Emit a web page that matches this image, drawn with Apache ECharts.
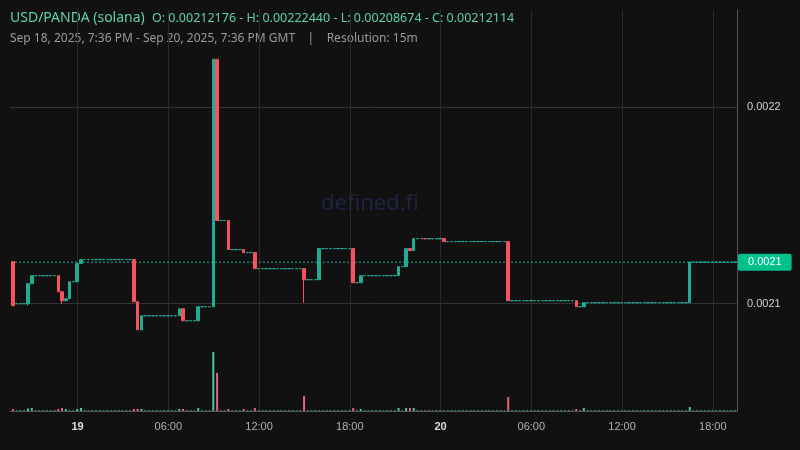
<!DOCTYPE html>
<html>
<head>
<meta charset="utf-8">
<script src="https://cdn.jsdelivr.net/npm/echarts@6/dist/echarts.min.js"></script>
<style>
html, body { margin: 0; padding: 0; background: #111111; }
#chart { width: 800px; height: 450px; }
</style>
</head>
<body>
<div id="chart"></div>
<script>
// runs of 15m candles: [count, open, close, low, high]
var candleRuns = [
  [1, 0.00212143, 0.00209898, 0.00209898, 0.00212143],
  [3, 0.00210000, 0.00210000, 0.00210000, 0.00210000],
  [1, 0.00210000, 0.00211020, 0.00209900, 0.00211020],
  [1, 0.00211020, 0.00211429, 0.00211020, 0.00211429],
  [6, 0.00211429, 0.00211429, 0.00211429, 0.00211429],
  [1, 0.00211429, 0.00210612, 0.00210612, 0.00211429],
  [1, 0.00210612, 0.00210153, 0.00210000, 0.00210612],
  [1, 0.00210153, 0.00210255, 0.00210153, 0.00210255],
  [1, 0.00210255, 0.00211122, 0.00210255, 0.00211122],
  [1, 0.00211122, 0.00211122, 0.00211122, 0.00211122],
  [1, 0.00211122, 0.00212041, 0.00211122, 0.00212041],
  [1, 0.00212041, 0.00212245, 0.00212041, 0.00212245],
  [13, 0.00212245, 0.00212245, 0.00212245, 0.00212245],
  [1, 0.00212245, 0.00210102, 0.00210102, 0.00212245],
  [1, 0.00210102, 0.00208674, 0.00208674, 0.00210102],
  [1, 0.00208674, 0.00209388, 0.00208674, 0.00209388],
  [9, 0.00209388, 0.00209388, 0.00209388, 0.00209388],
  [1, 0.00209388, 0.00209745, 0.00209388, 0.00209745],
  [1, 0.00209745, 0.00209133, 0.00209133, 0.00209745],
  [3, 0.00209133, 0.00209133, 0.00209133, 0.00209133],
  [1, 0.00209133, 0.00209847, 0.00209133, 0.00209847],
  [3, 0.00209847, 0.00209847, 0.00209847, 0.00209847],
  [1, 0.00209847, 0.00222440, 0.00209847, 0.00222440],
  [1, 0.00222440, 0.00214235, 0.00214235, 0.00222440],
  [2, 0.00214235, 0.00214235, 0.00214235, 0.00214235],
  [1, 0.00214235, 0.00212755, 0.00212755, 0.00214235],
  [3, 0.00212755, 0.00212755, 0.00212755, 0.00212755],
  [1, 0.00212755, 0.00212602, 0.00212602, 0.00212755],
  [2, 0.00212602, 0.00212602, 0.00212602, 0.00212602],
  [1, 0.00212602, 0.00211786, 0.00211786, 0.00212602],
  [12, 0.00211786, 0.00211786, 0.00211786, 0.00211786],
  [1, 0.00211786, 0.00211224, 0.00210051, 0.00211786],
  [3, 0.00211224, 0.00211224, 0.00211224, 0.00211224],
  [1, 0.00211224, 0.00212806, 0.00211224, 0.00212806],
  [8, 0.00212806, 0.00212806, 0.00212806, 0.00212806],
  [1, 0.00212806, 0.00211071, 0.00211071, 0.00212806],
  [1, 0.00211071, 0.00211071, 0.00211071, 0.00211071],
  [1, 0.00211071, 0.00211429, 0.00211071, 0.00211429],
  [9, 0.00211429, 0.00211429, 0.00211429, 0.00211429],
  [1, 0.00211429, 0.00211888, 0.00211429, 0.00211888],
  [1, 0.00211888, 0.00211888, 0.00211888, 0.00211888],
  [1, 0.00211888, 0.00212806, 0.00211888, 0.00212806],
  [1, 0.00212806, 0.00212704, 0.00212704, 0.00212806],
  [1, 0.00212704, 0.00213316, 0.00212704, 0.00213316],
  [2, 0.00213316, 0.00213316, 0.00213316, 0.00213316],
  [1, 0.00213316, 0.00213300, 0.00213300, 0.00213316],
  [4, 0.00213300, 0.00213316, 0.00213300, 0.00213316],
  [1, 0.00213316, 0.00213163, 0.00213163, 0.00213316],
  [16, 0.00213163, 0.00213163, 0.00213163, 0.00213163],
  [1, 0.00213163, 0.00210153, 0.00210153, 0.00213163],
  [17, 0.00210153, 0.00210153, 0.00210153, 0.00210153],
  [1, 0.00210153, 0.00209847, 0.00209847, 0.00210153],
  [1, 0.00209847, 0.00209847, 0.00209847, 0.00209847],
  [1, 0.00209847, 0.00210051, 0.00209847, 0.00210051],
  [27, 0.00210051, 0.00210051, 0.00210051, 0.00210051],
  [1, 0.00210051, 0.00212114, 0.00210051, 0.00212114],
  [12, 0.00212114, 0.00212114, 0.00212114, 0.00212114]
];
// volume (relative) by candle index; others are near zero
var volumeSpikes = {
  0: 2, 4: 2.5, 5: 3, 12: 2, 13: 3, 14: 2, 17: 2, 18: 3, 32: 2, 33: 2, 34: 2,
  44: 2, 45: 2, 49: 3, 53: 59, 54: 38, 57: 2, 61: 2, 64: 3, 77: 15, 90: 3, 92: 2,
  102: 3, 104: 3, 105: 3, 106: 3, 131: 14, 149: 2, 151: 3, 179: 4
};
var yTicks = [0.0021, 0.0022];
var xTicks = [0, 360, 720, 1080, 1440, 1800, 2160, 2520]; // minutes from Sep 19 00:00 GMT
var xStart = -264, xEnd = 2616; // Sep 18 19:36 .. Sep 20 19:36

var UP = '#22ab94', DOWN = '#f7525f';
var candles = [], volumes = [];
var idx = 0;
candleRuns.forEach(function (r) {
  for (var k = 0; k < r[0]; k++) {
    var t = xStart + 15 * idx + 7.5;
    var down = r[2] < r[1];
    candles.push({ value: [t, r[1], r[2], r[3], r[4]] });
    volumes.push({ value: [t, volumeSpikes[idx] || 0.6],
      itemStyle: { color: down ? '#e8637a' : '#45c9a2' } });
    idx++;
  }
});
var lastClose = candleRuns[candleRuns.length - 1][2];

function xLabel(v) {
  var m = ((v % 1440) + 1440) % 1440;
  if (m === 0) return '{b|' + (19 + Math.round(v / 1440)) + '}';
  var h = m / 60;
  return (h < 10 ? '0' : '') + h + ':00';
}

var chart = echarts.init(document.getElementById('chart'));
chart.setOption({
  backgroundColor: '#111111',
  animation: false,
  graphic: [
    { type: 'text', left: 10, top: 11, style: { text: 'USD/PANDA (solana)', fill: '#5fd0ae', font: '14px "Noto Sans"' } },
    { type: 'text', left: 152, top: 12, style: { text: 'O: 0.00212176 - H: 0.00222440 - L: 0.00208674 - C: 0.00212114', fill: '#5fd0ae', font: '12.5px "Noto Sans"' } },
    { type: 'text', left: 10, top: 33, style: { text: 'Sep 18, 2025, 7:36 PM - Sep 20, 2025, 7:36 PM GMT    |    Resolution: 15m', fill: '#9a9a9a', font: '12px "Noto Sans"' } },
    { type: 'text', left: 321, top: 193, style: { text: 'defined.fi', fill: '#1f2445', font: '22px "Noto Sans"' } }
  ],
  grid: [
    { left: 10, right: 63, top: 10, bottom: 39 },
    { left: 10, right: 63, top: 351, bottom: 39 }
  ],
  xAxis: [
    { type: 'value', gridIndex: 0, min: xStart - 4, max: xEnd,
      axisLine: { show: false, onZero: false }, axisTick: { show: false, customValues: xTicks },
      axisLabel: { show: false, customValues: xTicks },
      splitLine: { show: true, lineStyle: { color: '#2a2a2a' } } },
    { type: 'value', gridIndex: 1, min: xStart - 4, max: xEnd,
      axisLine: { show: true, onZero: false, lineStyle: { color: '#555' } }, axisTick: { show: false, customValues: xTicks },
      axisLabel: { customValues: xTicks, color: '#b0b0b0', fontSize: 11, margin: 10, formatter: xLabel,
        rich: { b: { color: '#dddddd', fontWeight: 'bold', fontSize: 11 } } },
      splitLine: { show: false } }
  ],
  yAxis: [
    { type: 'value', gridIndex: 0, position: 'right', min: 0.00204541, max: 0.00224949, scale: true,
      axisLine: { show: true, onZero: false, lineStyle: { color: '#555' } }, axisTick: { show: false, customValues: yTicks },
      axisLabel: { customValues: yTicks, color: '#cfcfcf', fontSize: 11, margin: 10,
        formatter: function (v) { return v.toFixed(4); } },
      splitLine: { show: true, lineStyle: { color: '#333' } } },
    { type: 'value', gridIndex: 1, min: 0, max: 60, show: false }
  ],
  series: [
    { type: 'candlestick', xAxisIndex: 0, yAxisIndex: 0, barWidth: 3, data: candles,
      itemStyle: { color: UP, color0: DOWN, borderColor: UP, borderColor0: DOWN, borderWidth: 1 } },
    { type: 'line', xAxisIndex: 0, yAxisIndex: 0, symbol: 'none', silent: true, z: 1,
      data: [[xStart, lastClose], [xEnd, lastClose]],
      lineStyle: { color: '#22ab94', type: [2, 2], width: 1 },
      endLabel: { show: true, formatter: function () { return lastClose.toFixed(4); },
        backgroundColor: '#00c08b', color: '#ffffff', fontSize: 11, padding: [3, 10, 3, 10], distance: 1, borderRadius: 2 } },
    { type: 'bar', xAxisIndex: 1, yAxisIndex: 1, barWidth: 2, data: volumes }
  ]
});
</script>
</body>
</html>
